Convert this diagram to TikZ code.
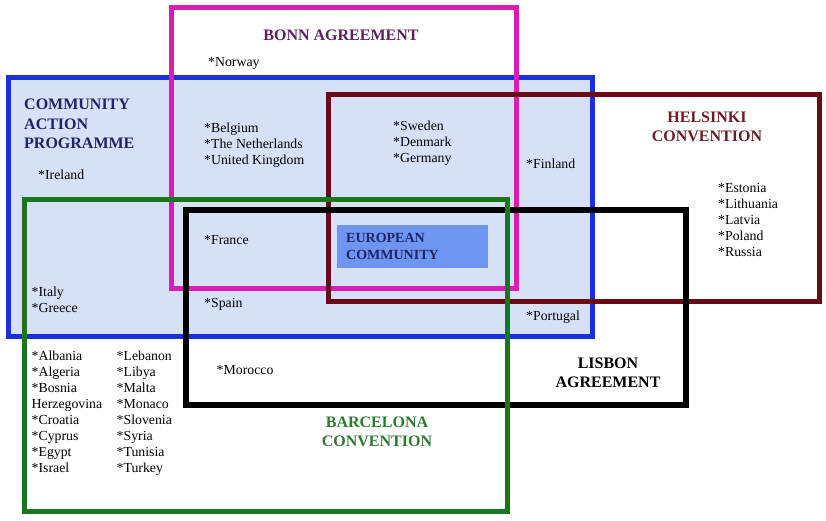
\documentclass[tikz,border=0pt]{standalone}
\usepackage{fontspec}
\setmainfont{Liberation Serif}
\usepackage{tikz}
\usetikzlibrary{positioning}

\definecolor{capblue}{HTML}{1A30D8}
\definecolor{capfill}{HTML}{D6E0F7}
\definecolor{bonnpink}{HTML}{D81CB4}
\definecolor{bonntext}{HTML}{5E1F60}
\definecolor{helsred}{HTML}{6A0A16}
\definecolor{helstext}{HTML}{6B1C26}
\definecolor{barcgreen}{HTML}{16781A}
\definecolor{barctext}{HTML}{2C7A2E}
\definecolor{ecfill}{HTML}{6E96F0}
\definecolor{navytext}{HTML}{1E2466}

\begin{document}
\begin{tikzpicture}[
    x=1pt, y=-1pt,
    frame/.style={
        line width=5pt
    },
    country/.style={
        anchor=north west,
        align=left,
        inner sep=0pt,
        font=\fontsize{13.8}{16}\selectfont
    },
    title/.style={
        anchor=north,
        align=center,
        inner sep=0pt,
        font=\fontsize{16}{18.5}\selectfont\bfseries
    }
]
    \useasboundingbox (0,0) rectangle (826,520);

    % --- FRAMES OF THE FIVE AGREEMENTS ---
    \draw[frame, draw=capblue, fill=capfill] (8,77) rectangle (592,336);
    \node[fill=ecfill, minimum width=151pt, minimum height=43pt, inner sep=0pt, anchor=north west] (ec_box) at (337,225) {};
    \draw[frame, draw=bonnpink] (171,7) rectangle (516,288);
    \draw[frame, draw=helsred] (328,94) rectangle (819,301);
    \draw[frame, draw=black, line width=5.5pt] (186,210) rectangle (686,405);
    \draw[frame, draw=barcgreen] (24,199) rectangle (507,511);

    % --- TITLES ---
    \node[title, text=bonntext] (bonn_title) at (341,30) {BONN AGREEMENT};
    \node[title, anchor=north west, align=left, font=\fontsize{16}{19.5}\selectfont\bfseries, text=navytext] (cap_title) at (24,99) {COMMUNITY\\ACTION\\PROGRAMME};
    \node[title, text=helstext] (hels_title) at (707,112) {HELSINKI\\CONVENTION};
    \node[title, text=black] (lisb_title) at (608,358) {LISBON\\AGREEMENT};
    \node[title, text=barctext] (barc_title) at (377,417) {BARCELONA\\CONVENTION};
    \node[country, font=\fontsize{14}{17}\selectfont\bfseries, text=navytext] (ec_title) at (346,233) {EUROPEAN\\COMMUNITY};

    % --- MEMBER STATES ---
    \node[country] (norway) at (208,57) {*Norway};
    \node[country] (ireland) at (38,170) {*Ireland};
    \node[country] (benelux) at (204,122.5) {*Belgium\\*The Netherlands\\*United Kingdom};
    \node[country] (nordic) at (393,120.5) {*Sweden\\*Denmark\\*Germany};
    \node[country] (finland) at (526,158.5) {*Finland};
    \node[country] (baltic) at (718,183) {*Estonia\\*Lithuania\\*Latvia\\*Poland\\*Russia};
    \node[country] (france) at (204,235) {*France};
    \node[country] (italy) at (31.5,287) {*Italy\\*Greece};
    \node[country] (spain) at (204,298.5) {*Spain};
    \node[country] (portugal) at (526,311) {*Portugal};
    \node[country] (med_left) at (31.5,351) {*Albania\\*Algeria\\*Bosnia\\Herzegovina\\*Croatia\\*Cyprus\\*Egypt\\*Israel};
    \node[country] (med_right) at (116.5,351) {*Lebanon\\*Libya\\*Malta\\*Monaco\\*Slovenia\\*Syria\\*Tunisia\\*Turkey};
    \node[country] (morocco) at (216.5,365) {*Morocco};

\end{tikzpicture}
\end{document}
